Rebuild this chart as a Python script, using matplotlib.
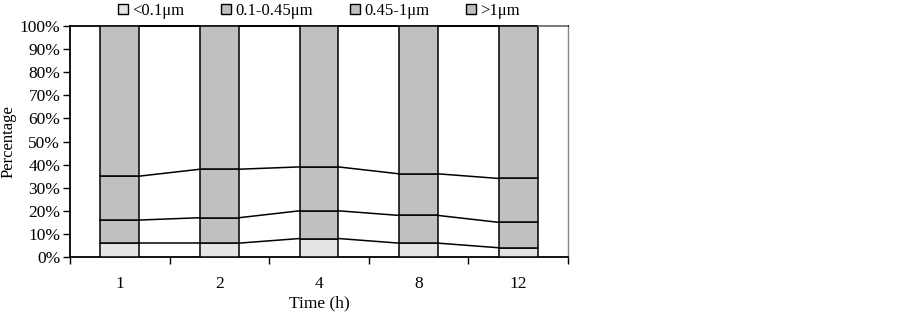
import numpy as np
import matplotlib
matplotlib.use('Agg')
import matplotlib.pyplot as plt
from matplotlib.patches import Patch

plt.rcParams['font.family'] = ['Liberation Serif', 'DejaVu Serif']

times = ['1', '2', '4', '8', '12']
pct_lt01 = [6, 6, 8, 6, 4]
pct_01_045 = [10, 11, 12, 12, 11]
pct_045_1 = [19, 21, 19, 18, 19]
pct_gt1 = [65, 62, 61, 64, 66]
series_names = ['<0.1\u03bcm', '0.1-0.45\u03bcm', '0.45-1\u03bcm', '>1\u03bcm']
colors = ['#e4e4e4', '#c0c0c0', '#c0c0c0', '#c0c0c0']

fig = plt.figure(figsize=(8.99, 3.2), dpi=100)
ax = fig.add_axes([70/899, 1-257/320, (568-70)/899, (257-26)/320])

x = np.arange(len(times))
w = 0.39
series = [pct_lt01, pct_01_045, pct_045_1, pct_gt1]
bottom = np.zeros(len(times))
for vals, c in zip(series, colors):
    vals = np.array(vals, dtype=float)
    ax.bar(x, vals, w, bottom=bottom, color=c, edgecolor='black', linewidth=1.1, zorder=3)
    top = bottom + vals
    # series lines between bars
    for i in range(len(times) - 1):
        ax.plot([x[i] + w/2, x[i+1] - w/2], [top[i], top[i+1]], color='black', lw=1.1, zorder=4,
                solid_capstyle='butt', clip_on=False)
    bottom = top

ax.set_xlim(-0.5, len(times) - 0.5)
ax.set_ylim(0, 100)
ax.set_yticks(np.arange(0, 101, 10))
ax.set_yticklabels([f'{v}%' for v in range(0, 101, 10)], fontsize=12.5)
ax.set_xticks(x)
ax.set_xticklabels(times, fontsize=12.5)
ax.tick_params(axis='x', which='major', length=0, pad=14)
ax.set_xticks(np.arange(-0.5, len(times), 1.0), minor=True)
ax.tick_params(axis='x', which='minor', length=5, direction='out', width=1)
ax.tick_params(axis='y', length=5, direction='out', width=1, pad=2)

for s in ['left', 'bottom', 'top']:
    ax.spines[s].set_color('black')
    ax.spines[s].set_linewidth(1.3)
ax.spines['right'].set_color('#888888')
ax.spines['right'].set_linewidth(1.0)
# gray frame part right of the last bar
ax.plot([x[-1] + w/2, len(times) - 0.5], [100, 100], color='#888888', lw=1.3, zorder=5,
        clip_on=False, solid_capstyle='butt')

ax.set_ylabel('Percentage', fontsize=12, labelpad=2)
ax.set_xlabel('Time (h)', fontsize=12.5, labelpad=2)

handles = [Patch(facecolor=c, edgecolor='black', linewidth=1.0) for c in colors]
fig.legend(handles, series_names, loc='center', bbox_to_anchor=(319/899, 1-11/320), ncol=4,
           frameon=False, fontsize=12, handlelength=0.6, handleheight=0.6,
           handletextpad=0.25, columnspacing=2.2, borderpad=0)

fig.savefig('out.png', dpi=100)
